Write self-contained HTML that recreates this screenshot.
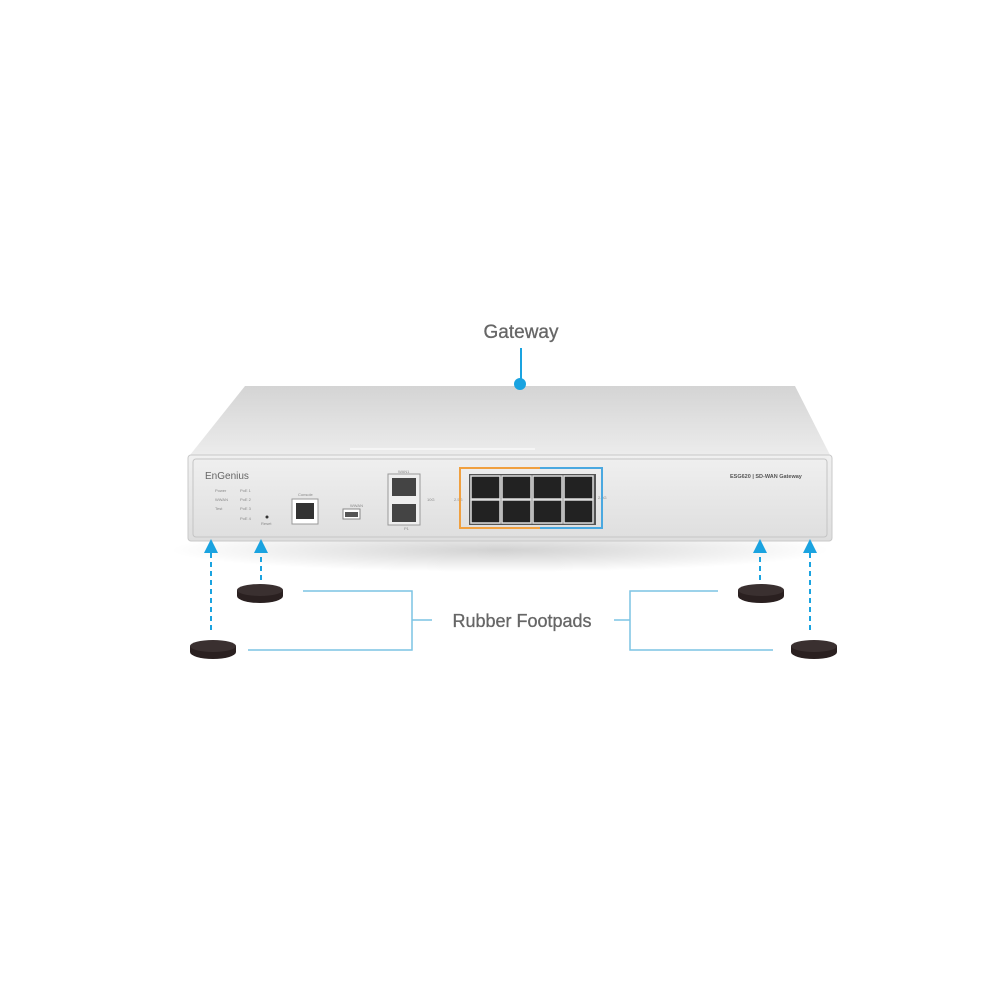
<!DOCTYPE html>
<html><head><style>body{margin:0;background:#fff}svg{display:block}</style></head><body>
<svg width="1000" height="1000" viewBox="0 0 1000 1000" xmlns="http://www.w3.org/2000/svg" font-family="Liberation Sans, sans-serif">
<defs>
<linearGradient id="top" x1="0" y1="0" x2="0" y2="1"><stop offset="0" stop-color="#d4d4d4"/><stop offset="1" stop-color="#ececec"/></linearGradient>
<linearGradient id="front" x1="0" y1="0" x2="0" y2="1"><stop offset="0" stop-color="#f0f0f0"/><stop offset="1" stop-color="#dedede"/></linearGradient>
<radialGradient id="shadow" cx="0.5" cy="0.5" r="0.5"><stop offset="0" stop-color="#000" stop-opacity="0.18"/><stop offset="1" stop-color="#000" stop-opacity="0"/></radialGradient>
</defs>
<text x="521" y="338" text-anchor="middle" font-size="19" fill="#666" stroke="#666" stroke-width="0.3">Gateway</text>
<ellipse cx="500" cy="550" rx="330" ry="22" fill="url(#shadow)"/>
<polygon points="245,386 795,386 830,455 190,455" fill="url(#top)"/>
<line x1="350" y1="449" x2="535" y2="449" stroke="#f5f5f5" stroke-width="2"/>
<line x1="521" y1="348" x2="521" y2="382" stroke="#1aa3e0" stroke-width="2"/>
<circle cx="520" cy="384" r="6" fill="#1aa3e0"/>
<rect x="188" y="455" width="644" height="86" rx="3" fill="url(#front)" stroke="#c8c8c8"/>
<rect x="193" y="459" width="634" height="78" rx="3" fill="none" stroke="#c4c4c4"/>
<text x="205" y="479" font-size="10" fill="#666">EnGenius</text>
<g font-size="4" fill="#888"><text x="215" y="492">Power</text><text x="215" y="501">WWAN</text><text x="215" y="510">Test</text><text x="240" y="492">PoE 1</text><text x="240" y="501">PoE 2</text><text x="240" y="510">PoE 3</text><text x="240" y="520">PoE 4</text><text x="261" y="525">Reset</text><text x="298" y="496">Console</text><text x="350" y="507">WWAN</text><text x="398" y="473">WAN1</text><text x="427" y="501">10G</text><text x="404" y="530">P1</text><text x="454" y="501">2.5G</text><text x="598" y="499">2.5G</text><text x="730" y="478" font-weight="bold" font-size="5.5" fill="#555">ESG620 | SD-WAN Gateway</text></g>
<circle cx="267" cy="517" r="1.5" fill="#333"/>
<rect x="292" y="499" width="26" height="25" fill="#fff" stroke="#999"/><rect x="296" y="503" width="18" height="16" fill="#333"/>
<rect x="343" y="509" width="17" height="10" fill="#fff" stroke="#888"/><rect x="345" y="512" width="13" height="5" fill="#555"/>
<rect x="388" y="474" width="32" height="51" fill="#eee" stroke="#999"/><rect x="392" y="478" width="24" height="18" fill="#444"/><rect x="392" y="504" width="24" height="18" fill="#444"/>
<g fill="none" stroke-width="2"><polyline points="476,468 460,468 460,528 476,528" stroke="#f0a040"/><line x1="476" y1="468" x2="540" y2="468" stroke="#f0a040"/><line x1="476" y1="528" x2="540" y2="528" stroke="#f0a040"/><polyline points="540,468 602,468 602,528 540,528" stroke="#4aa8e0"/></g>
<rect x="469" y="474" width="127" height="51" fill="#555"/>
<g fill="#222" stroke="#ddd" stroke-width="1.5">
<rect x="471" y="476" width="29" height="23"/><rect x="502" y="476" width="29" height="23"/><rect x="533" y="476" width="29" height="23"/><rect x="564" y="476" width="29" height="23"/>
<rect x="471" y="500" width="29" height="23"/><rect x="502" y="500" width="29" height="23"/><rect x="533" y="500" width="29" height="23"/><rect x="564" y="500" width="29" height="23"/>
</g>
<g stroke="#1aa3e0" stroke-width="2" fill="none" stroke-dasharray="5,4">
<line x1="211" y1="630" x2="211" y2="552"/><line x1="261" y1="580" x2="261" y2="552"/><line x1="760" y1="580" x2="760" y2="552"/><line x1="810" y1="630" x2="810" y2="552"/></g>
<g fill="#1aa3e0"><polygon points="204,553 218,553 211,539"/><polygon points="254,553 268,553 261,539"/><polygon points="753,553 767,553 760,539"/><polygon points="803,553 817,553 810,539"/></g>
<g><path d="M237,590 v6 a23,7 0 0 0 46,0 v-6z" fill="#2a2020"/><ellipse cx="260" cy="590" rx="23" ry="6" fill="#3a3030"/>
<path d="M190,646 v6 a23,7 0 0 0 46,0 v-6z" fill="#2a2020"/><ellipse cx="213" cy="646" rx="23" ry="6" fill="#3a3030"/>
<path d="M738,590 v6 a23,7 0 0 0 46,0 v-6z" fill="#2a2020"/><ellipse cx="761" cy="590" rx="23" ry="6" fill="#3a3030"/>
<path d="M791,646 v6 a23,7 0 0 0 46,0 v-6z" fill="#2a2020"/><ellipse cx="814" cy="646" rx="23" ry="6" fill="#3a3030"/></g>
<g stroke="#7cc4e4" stroke-width="1.5" fill="none">
<polyline points="303,591 412,591 412,650 248,650"/><line x1="412" y1="620" x2="432" y2="620"/>
<polyline points="718,591 630,591 630,650 773,650"/><line x1="614" y1="620" x2="630" y2="620"/></g>
<text x="522" y="627" text-anchor="middle" font-size="18" fill="#666" stroke="#666" stroke-width="0.3">Rubber Footpads</text>
</svg>
</body></html>
